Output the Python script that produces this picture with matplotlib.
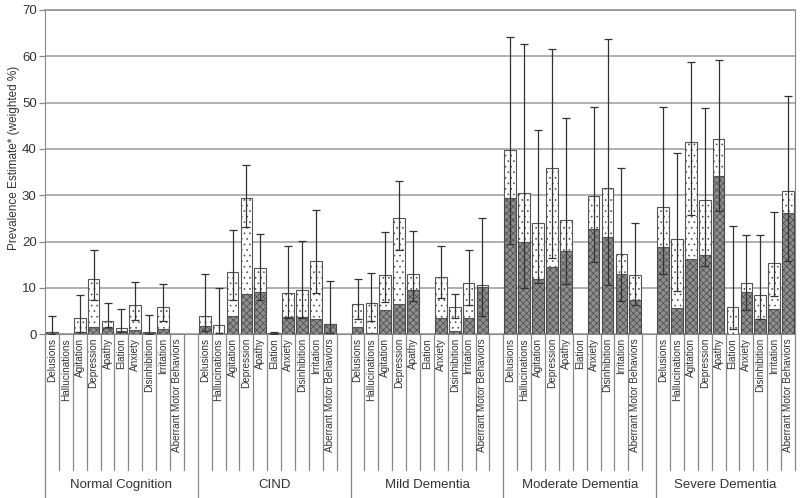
import numpy as np
import matplotlib
matplotlib.use("Agg")
import matplotlib.pyplot as plt

plt.rcParams['font.family'] = ['Liberation Sans', 'DejaVu Sans']
plt.rcParams['hatch.linewidth'] = 0.5

# data
groups = ["Normal Cognition", "CIND", "Mild Dementia", "Moderate Dementia", "Severe Dementia"]
symptoms = ["Delusions", "Hallucinations", "Agitation", "Depression", "Apathy",
            "Elation", "Anxiety", "Disinhibition", "Irritation", "Aberrant Motor Behaviors"]

# total prevalence (top of bar)
total = [
    [0.6, 0.0, 3.5, 12.0, 2.8, 1.4, 6.4, 0.4, 5.8, 0.0],
    [3.9, 2.1, 13.4, 29.5, 14.3, 0.3, 9.0, 9.6, 15.9, 2.3],
    [6.5, 6.7, 12.8, 25.0, 13.1, 0.0, 12.4, 5.8, 11.1, 10.6],
    [39.7, 30.6, 24.0, 36.0, 24.6, 0.0, 29.8, 31.5, 17.3, 12.9],
    [27.5, 20.5, 41.4, 29.0, 42.1, 5.8, 11.1, 8.5, 15.4, 31.0],
]
# clinically significant part (dark segment)
significant = [
    [0.5, 0.0, 0.6, 1.6, 1.4, 0.7, 0.9, 0.3, 1.2, 0.0],
    [1.9, 0.0, 4.0, 8.8, 9.2, 0.3, 3.7, 3.7, 3.3, 2.3],
    [1.5, 0.3, 5.3, 6.6, 9.6, 0.0, 3.6, 0.7, 3.6, 10.2],
    [29.4, 20.0, 12.0, 14.6, 17.9, 0.0, 22.8, 21.0, 13.1, 7.5],
    [18.8, 5.6, 16.3, 17.1, 34.2, 0.0, 9.2, 3.4, 5.4, 26.1],
]
ci_low = [
    [0.0, np.nan, 0.6, 7.3, 1.5, 0.6, 3.0, 0.0, 2.9, np.nan],
    [0.8, 0.2, 7.5, 23.2, 7.3, 0.1, 3.5, 3.5, 8.9, 0.2],
    [3.3, 2.9, 6.9, 18.3, 7.2, np.nan, 7.9, 3.6, 6.3, 4.0],
    [19.5, 10.1, 11.0, 16.5, 10.8, np.nan, 15.6, 10.6, 7.2, 6.3],
    [13.0, 9.4, 25.8, 14.7, 26.6, 1.1, 5.2, 3.3, 8.3, 15.8],
]
ci_high = [
    [4.0, np.nan, 8.5, 18.2, 6.8, 5.4, 11.2, 4.2, 10.9, np.nan],
    [13.0, 9.9, 22.6, 36.6, 21.7, 0.5, 19.1, 20.2, 26.8, 11.4],
    [12.0, 13.2, 22.1, 33.1, 22.4, np.nan, 19.0, 8.8, 18.2, 25.2],
    [64.2, 62.7, 44.1, 61.6, 46.6, np.nan, 49.1, 63.7, 35.8, 24.0],
    [49.1, 39.1, 58.8, 48.8, 59.1, 23.3, 21.4, 21.4, 26.5, 51.5],
]

n_sym = len(symptoms)
slot = n_sym + 1
fig = plt.figure(figsize=(8, 4.98), dpi=100)
ax = fig.add_axes([0.05625, 0.3287, 0.9375, 0.6513])

dark = '#8e8e8e'
for g in range(len(groups)):
    x = g * slot + np.arange(n_sym)
    tot = np.array(total[g])
    sig = np.array(significant[g])
    ax.bar(x, sig, width=0.84, color=dark, edgecolor='#4a4a4a', hatch='xxxxx',
           linewidth=0.8, zorder=3)
    ax.bar(x, tot - sig, bottom=sig, width=0.84, color='white', edgecolor='#555555',
           hatch='...', linewidth=0.8, zorder=3)
    lo = np.array(ci_low[g])
    hi = np.array(ci_high[g])
    ok = ~np.isnan(lo)
    ax.errorbar(x[ok], tot[ok], yerr=[tot[ok] - lo[ok], hi[ok] - tot[ok]], fmt='none',
                ecolor='#333333', elinewidth=0.9, capsize=3, capthick=0.9, zorder=4)

n_slots = slot * len(groups) - 1
ax.set_xlim(-0.5, n_slots - 0.5)
ax.set_ylim(0, 70)
ax.set_yticks(np.arange(0, 71, 10))
ax.yaxis.grid(True, color='#aaaaaa', linewidth=1.3, zorder=0)
ax.set_axisbelow(True)
ax.set_xticks([])
ax.tick_params(axis='y', labelsize=9.5, labelcolor='#333333', color='#888888',
               length=4, width=0.9, pad=2)
for s in ['left', 'right', 'bottom']:
    ax.spines[s].set_color('#888888')
ax.spines['top'].set_color('#999999')
ax.spines['top'].set_linewidth(1.3)
ax.set_ylabel("Prevalence Estimate* (weighted %)", fontsize=8.5, color='#333333')
ax.yaxis.set_label_coords(-0.033, 0.545)

# category labels and separator lines below the axis
short_end = -29.3
long_end = -35.5
for g, name in enumerate(groups):
    start = g * slot
    for j, s in enumerate(symptoms):
        ax.text(start + j, -0.8, s, rotation=90, ha='center', va='top',
                fontsize=7.2, color='#333333', clip_on=False)
        ax.plot([start + j + 0.5] * 2, [0, short_end], color='#888888', lw=0.9,
                clip_on=False)
    left = start - 0.5
    right = min(start + slot - 0.5, n_slots - 0.5)
    ax.plot([left, left], [0, long_end], color='#888888', lw=0.9, clip_on=False)
    ax.text((left + right) / 2, -32.6, name, ha='center', va='center',
            fontsize=9.5, color='#333333', clip_on=False)

fig.savefig("out.png", dpi=100)
